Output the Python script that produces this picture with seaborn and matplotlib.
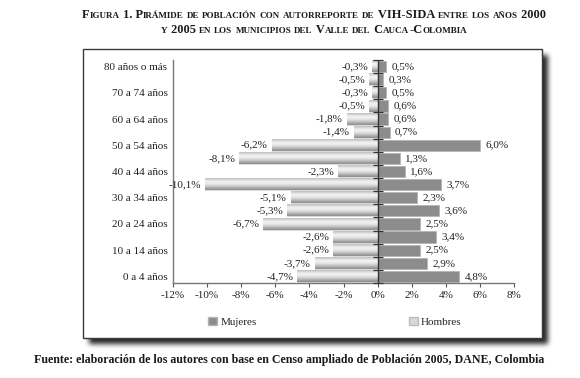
import numpy as np
import pandas as pd
import matplotlib
matplotlib.use("Agg")
import matplotlib.pyplot as plt
import seaborn as sns
from matplotlib.patches import Rectangle, Patch
from matplotlib.colors import LinearSegmentedColormap

# ---------------- data ----------------
grupos = ["80 años o más", "75 a 79 años", "70 a 74 años", "65 a 69 años",
          "60 a 64 años", "55 a 59 años", "50 a 54 años", "45 a 49 años",
          "40 a 44 años", "35 a 39 años", "30 a 34 años", "25 a 29 años",
          "20 a 24 años", "15 a 19 años", "10 a 14 años", "5 a 9 años",
          "0 a 4 años"]
hombres = [-0.3, -0.5, -0.3, -0.5, -1.8, -1.4, -6.2, -8.1, -2.3, -10.1,
           -5.1, -5.3, -6.7, -2.6, -2.6, -3.7, -4.7]
mujeres = [0.5, 0.3, 0.5, 0.6, 0.6, 0.7, 6.0, 1.3, 1.6, 3.7,
           2.3, 3.6, 2.5, 3.4, 2.5, 2.9, 4.8]
xticks = [-12, -10, -8, -6, -4, -2, 0, 2, 4, 6, 8]
xtick_labels = ["-12%", "-10%", "-8%", "-6%", "-4%", "-2%", "0%", "2%", "4%", "6%", "8%"]
ytick_labels = ["80 años o más", "70 a 74 años", "60 a 64 años", "50 a 54 años",
                "40 a 44 años", "30 a 34 años", "20 a 24 años", "10 a 14 años",
                "0 a 4 años"]
titulo1 = "Figura 1. Pirámide de población con autorreporte de VIH-SIDA entre los años 2000"
titulo2 = "y 2005 en los municipios del Valle del Cauca-Colombia"
fuente = "Fuente: elaboración de los autores con base en Censo ampliado de Población 2005, DANE, Colombia"

df = pd.DataFrame({"Edad": grupos, "Hombres": hombres, "Mujeres": mujeres})

sns.set_theme(style="white")
plt.rcParams["font.family"] = ["Liberation Serif", "DejaVu Serif"]

W, H = 580, 378
fig = plt.figure(figsize=(W / 100, H / 100), dpi=100)
fig.patch.set_facecolor("white")

# ---------------- framed box with drop shadow ----------------
bx0, bx1, by0, by1 = 83, 542, 49, 338   # pixel coords (top-left origin)
mask = np.zeros((H, W))
off = 6
mask[by0 + off:by1 + off, bx0 + off:bx1 + off] = 1.0
k = np.ones(5) / 5.0
for _ in range(3):
    mask = np.apply_along_axis(lambda r: np.convolve(r, k, mode="same"), 1, mask)
    mask = np.apply_along_axis(lambda c: np.convolve(c, k, mode="same"), 0, mask)
rgba = np.zeros((H, W, 4))
rgba[..., 3] = mask * 0.85
fig.figimage(rgba, xo=0, yo=0, origin="upper", zorder=0)
fig.patches.append(Rectangle((bx0 / W, 1 - by1 / H), (bx1 - bx0) / W, (by1 - by0) / H,
                             transform=fig.transFigure, facecolor="white",
                             edgecolor="#3a3a3a", linewidth=1.0, zorder=1))

# ---------------- axes ----------------
ax = fig.add_axes([173 / W, 1 - 283 / H, (514 - 173) / W, (283 - 60) / H])
ax.set_zorder(2)
ax.patch.set_alpha(0)

order = grupos
sns.barplot(data=df, x="Hombres", y="Edad", order=order, color="#d6d6d6",
            saturation=1, width=0.86, orient="h", ax=ax, edgecolor="#cfcfcf",
            linewidth=0.4)
sns.barplot(data=df, x="Mujeres", y="Edad", order=order, color="#8c8c8c",
            saturation=1, width=0.86, orient="h", ax=ax, edgecolor="#b5b5b5",
            linewidth=0.6)

ax.set_xlim(-12, 8)
ax.set_ylim(16.5, -0.5)

# gradient fill for Hombres bars
cmap = LinearSegmentedColormap.from_list(
    "cyl", [(0.0, "#bdbdbd"), (0.3, "#f6f6f6"), (0.55, "#e2e2e2"), (1.0, "#8a8a8a")])
grad = np.linspace(0, 1, 64).reshape(-1, 1)
for p in ax.containers[0].patches:
    x0, w = p.get_x(), p.get_width()
    y0, h = p.get_y(), p.get_height()
    ax.imshow(grad, cmap=cmap, aspect="auto", origin="upper",
              extent=(min(x0, x0 + w), max(x0, x0 + w), y0 + h, y0),
              interpolation="bicubic", zorder=p.get_zorder() + 0.1)
ax.set_xlim(-12, 8)
ax.set_ylim(16.5, -0.5)

def fmt(v):
    return f"{v:.1f}".replace(".", ",") + "%"

ax.bar_label(ax.containers[0], labels=[fmt(v) for v in hombres], padding=3,
             fontsize=8, color="#222222")
ax.bar_label(ax.containers[1], labels=[fmt(v) for v in mujeres], padding=4,
             fontsize=8, color="#222222")

# central axis with cross ticks
ax.axvline(0, color="#333333", linewidth=1.0, zorder=5)
bounds = np.arange(-0.5, 17.0, 1.0)
ax.plot(np.zeros_like(bounds), bounds, linestyle="none", marker="_",
        markersize=7, markeredgewidth=0.9, color="#333333", zorder=5, clip_on=False)

ax.set_xticks(xticks)
ax.set_xticklabels(xtick_labels, fontsize=8, color="#222222")
ax.set_yticks(list(range(0, 17, 2)))
ax.set_yticklabels(ytick_labels, fontsize=8, color="#222222")
ax.tick_params(axis="x", direction="out", length=3, width=0.8, color="#555555",
               bottom=True, pad=3)
ax.tick_params(axis="y", length=0, pad=4)
ax.set_xlabel("")
ax.set_ylabel("")
for s in ["top", "right"]:
    ax.spines[s].set_visible(False)
for s in ["left", "bottom"]:
    ax.spines[s].set_color("#777777")
    ax.spines[s].set_linewidth(1.0)

# legend
handles = [Patch(facecolor="#8c8c8c", edgecolor="#b5b5b5", label="Mujeres"),
           Patch(facecolor="#d8d8d8", edgecolor="#bbbbbb", label="Hombres")]
leg = fig.legend(handles=handles, loc="center", bbox_to_anchor=(335 / W, 1 - 322 / H),
                 ncol=2, frameon=False, fontsize=8, handlelength=0.8, handleheight=0.8,
                 handletextpad=0.3, columnspacing=13.7)
leg.set_zorder(3)

# ---------------- small-caps title ----------------
def small_caps(text, xc_px, baseline_px, big=8.9, small=6.45):
    runs = []
    for ch in text:
        low = ch.islower()
        c = ch.upper() if low else ch
        size = small if low else big
        if runs and runs[-1][1] == size:
            runs[-1][0] += c
        else:
            runs.append([c, size])
    arts = [fig.text(0, 1 - baseline_px / H, r, fontsize=sz, fontweight="bold",
                     ha="left", va="baseline", color="#1a1a1a")
            for r, sz in runs]
    rend = fig.canvas.get_renderer()
    widths = [a.get_window_extent(rend).width for a in arts]
    x = xc_px - sum(widths) / 2
    for a, w in zip(arts, widths):
        a.set_x(x / W)
        x += w

small_caps(titulo1, 314, 18)
small_caps(titulo2, 314, 33)

fig.text(289 / W, 1 - 360 / H, fuente, ha="center", va="center", fontsize=8.6,
         fontweight="bold", color="#1a1a1a")

fig.savefig("out.png", dpi=100, facecolor="white")
